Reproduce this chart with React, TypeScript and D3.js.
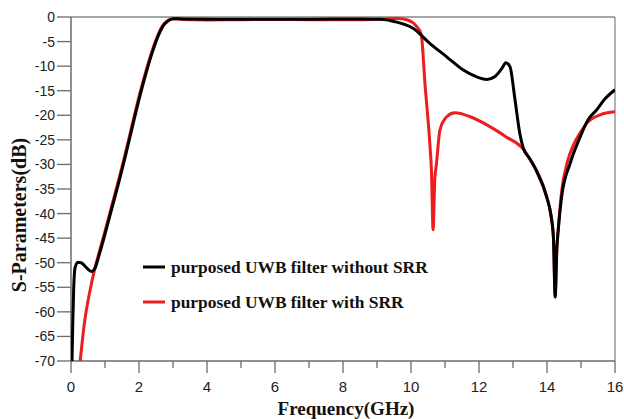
import React from "react";
import * as d3 from "d3";

const blackFreq = [0.03, 0.05, 0.08, 0.12, 0.2, 0.3, 0.45, 0.6, 0.7, 0.82, 1.0, 1.2, 1.4, 1.6, 1.8, 2.0, 2.2, 2.4, 2.55, 2.7, 2.85, 3.0, 3.3, 5, 7, 8.5, 9.1, 9.5, 10.06, 10.56, 11.05, 11.54, 11.9, 12.23, 12.47, 12.68, 12.79, 12.91, 13.06, 13.2, 13.3, 13.5, 13.7, 13.99, 14.12, 14.19, 14.24, 14.29, 14.33, 14.43, 14.68, 14.97, 15.2, 15.46, 15.7, 16];
const blackDb = [-70, -63, -55, -51, -49.9, -50.0, -51.0, -51.8, -51.2, -48.6, -44.2, -39, -33.8, -28.3, -22.5, -16.8, -11.6, -7.0, -4.1, -1.9, -0.8, -0.35, -0.4, -0.45, -0.45, -0.4, -0.45, -0.9, -2.3, -5.4, -8.1, -10.8, -12.1, -12.7, -12.1, -10.4, -9.3, -10.1, -16.9, -23.7, -26.6, -28.9, -31.5, -36.6, -40.5, -45, -57, -47, -43.3, -36.6, -29.8, -24.5, -21, -18.9, -16.7, -14.8];

const redFreq = [0.27, 0.4, 0.55, 0.7, 0.82, 1.0, 1.2, 1.4, 1.6, 1.8, 2.0, 2.2, 2.4, 2.55, 2.7, 2.85, 3.0, 3.3, 4, 5, 6, 7, 8.5, 9.2, 9.6, 9.9, 10.15, 10.3, 10.41, 10.56, 10.6, 10.65, 10.7, 10.75, 10.85, 11.05, 11.29, 11.74, 12.32, 12.8, 13.3, 13.5, 13.7, 13.99, 14.12, 14.19, 14.24, 14.29, 14.33, 14.43, 14.6, 14.78, 15.0, 15.17, 15.56, 16];
const redDb = [-70, -62, -56, -51.2, -48.1, -43.6, -38.4, -33.2, -27.7, -21.9, -16.2, -11.1, -6.6, -3.8, -1.7, -0.7, -0.35, -0.5, -0.6, -0.55, -0.5, -0.55, -0.55, -0.4, -0.3, -0.6, -1.8, -3.5, -13.5, -26.4, -31, -43.3, -33, -29.8, -23, -20.3, -19.5, -20.3, -22.3, -24.4, -26.9, -29, -31.3, -36.6, -40.5, -45, -56.5, -47, -43.3, -35.5, -29.5, -26, -23.3, -21.6, -19.9, -19.3];

const xTicks = [0, 2, 4, 6, 8, 10, 12, 14, 16];
const xMinor = [1, 3, 5, 7, 9, 11, 13, 15];
const yTicks = [0, -5, -10, -15, -20, -25, -30, -35, -40, -45, -50, -55, -60, -65, -70];

const seriesNames = ["purposed UWB filter without SRR", "purposed UWB filter with SRR"];
const seriesColors = ["#000000", "#ee1c1c"];

export default function App() {
  const x = d3.scaleLinear().domain([0, 16]).range([71, 615]);
  const y = d3.scaleLinear().domain([-70, 0]).range([361, 17]);
  const line = d3
    .line<[number, number]>()
    .x((d) => x(d[0]))
    .y((d) => y(d[1]))
    .curve(d3.curveMonotoneX);
  const blackPts = blackFreq.map((f, i) => [f, blackDb[i]] as [number, number]);
  const redPts = redFreq.map((f, i) => [f, redDb[i]] as [number, number]);
  const axisColor = "#6a6a6a";
  return (
    <svg
      width={624}
      height={419}
      style={{ position: "absolute", left: 0, top: 0, background: "#fff" }}
    >
      <defs>
        <clipPath id="plot">
          <rect x={71} y={15} width={544} height={346} />
        </clipPath>
      </defs>
      <rect x={0} y={0} width={624} height={419} fill="#fff" />
      <line x1={71} x2={615} y1={17} y2={17} stroke="#888" strokeWidth={1.3} />
      <line x1={615} x2={615} y1={17} y2={361} stroke="#888" strokeWidth={1.3} />
      <line x1={71} x2={71} y1={17} y2={361} stroke={axisColor} strokeWidth={1.5} />
      <line x1={71} x2={615} y1={361} y2={361} stroke={axisColor} strokeWidth={1.5} />
      {yTicks.map((t) => (
        <g key={"y" + t}>
          <line x1={57} x2={71} y1={y(t)} y2={y(t)} stroke={axisColor} strokeWidth={1.3} />
          <text
            x={55}
            y={y(t) + 5}
            textAnchor="end"
            fontFamily="Liberation Sans, Arial, sans-serif"
            fontSize={14}
            fill="#222"
          >
            {t}
          </text>
        </g>
      ))}
      {xTicks.map((t) => (
        <g key={"x" + t}>
          <line x1={x(t)} x2={x(t)} y1={361} y2={373} stroke={axisColor} strokeWidth={1.3} />
          <text
            x={x(t)}
            y={392}
            textAnchor="middle"
            fontFamily="Liberation Sans, Arial, sans-serif"
            fontSize={15}
            fill="#222"
          >
            {t}
          </text>
        </g>
      ))}
      {xMinor.map((t) => (
        <line key={"m" + t} x1={x(t)} x2={x(t)} y1={361} y2={368} stroke={axisColor} strokeWidth={1.3} />
      ))}
      <g clipPath="url(#plot)">
        <path d={line(redPts) || ""} fill="none" stroke={seriesColors[1]} strokeWidth={3} strokeLinejoin="round" />
        <path d={line(blackPts) || ""} fill="none" stroke={seriesColors[0]} strokeWidth={3} strokeLinejoin="round" />
      </g>
      {seriesNames.map((n, i) => (
        <g key={n}>
          <line x1={143} x2={165} y1={267 + i * 35} y2={267 + i * 35} stroke={seriesColors[i]} strokeWidth={3} />
          <text
            x={171}
            y={273 + i * 35}
            fontFamily="Liberation Serif, Times New Roman, serif"
            fontWeight="bold"
            fontSize={17.4}
            fill="#111"
          >
            {n}
          </text>
        </g>
      ))}
      <text
        x={346}
        y={415}
        textAnchor="middle"
        fontFamily="Liberation Serif, Times New Roman, serif"
        fontWeight="bold"
        fontSize={19}
        fill="#111"
      >
        Frequency(GHz)
      </text>
      <text
        transform="translate(26,215) rotate(-90)"
        textAnchor="middle"
        fontFamily="Liberation Serif, Times New Roman, serif"
        fontWeight="bold"
        fontSize={20}
        fill="#111"
      >
        S-Parameters(dB)
      </text>
    </svg>
  );
}
